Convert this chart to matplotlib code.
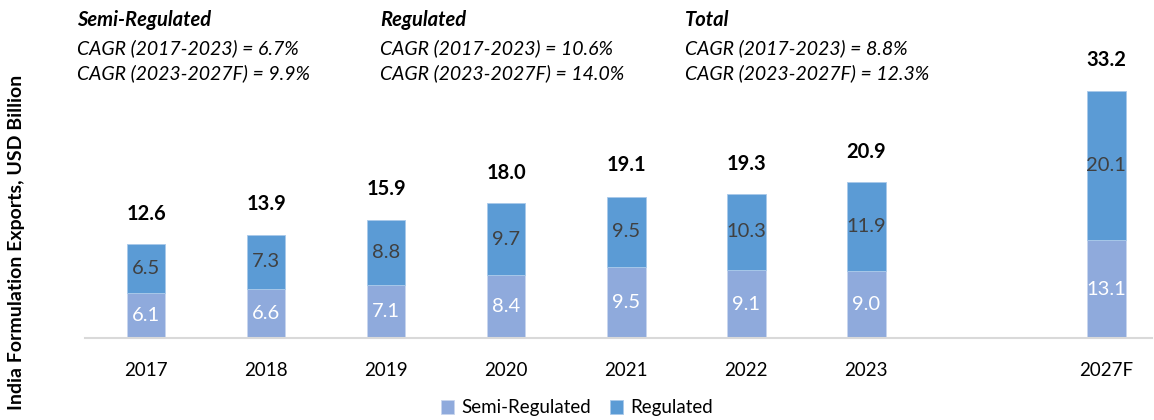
import matplotlib.pyplot as plt
import numpy as np

plt.rcParams["font.family"] = ["Lato", "DejaVu Sans"]

years = ["2017", "2018", "2019", "2020", "2021", "2022", "2023", "2027F"]
semi_regulated = [6.1, 6.6, 7.1, 8.4, 9.5, 9.1, 9.0, 13.1]
regulated = [6.5, 7.3, 8.8, 9.7, 9.5, 10.3, 11.9, 20.1]
totals = [12.6, 13.9, 15.9, 18.0, 19.1, 19.3, 20.9, 33.2]

cagr_blocks = [
    ("Semi-Regulated", "CAGR (2017-2023) = 6.7%", "CAGR (2023-2027F) = 9.9%"),
    ("Regulated", "CAGR (2017-2023) = 10.6%", "CAGR (2023-2027F) = 14.0%"),
    ("Total", "CAGR (2017-2023) = 8.8%", "CAGR (2023-2027F) = 12.3%"),
]

semi_color = "#8FAADC"
reg_color = "#5B9BD5"

fig = plt.figure(figsize=(11.54, 4.2), dpi=100)
ax = fig.add_axes([85 / 1154, 82 / 420, 1067 / 1154, 338 / 420])

# gap before the forecast year
x = np.array([0, 1, 2, 3, 4, 5, 6, 8])
width = 0.32

ax.bar(x, semi_regulated, width, color=semi_color, edgecolor="#C9D6EE", linewidth=0.6,
       label="Semi-Regulated")
ax.bar(x, regulated, width, bottom=semi_regulated, color=reg_color, edgecolor="#A9C9EA",
       linewidth=0.6, label="Regulated")

for xi, s, r, t in zip(x, semi_regulated, regulated, totals):
    ax.text(xi, s / 2, f"{s:.1f}", ha="center", va="center", color="white", fontsize=14.5)
    ax.text(xi, s + r / 2, f"{r:.1f}", ha="center", va="center", color="#404040", fontsize=14.5)
    ax.text(xi, t + 4.1, f"{t:.1f}", ha="center", va="center", color="black", fontsize=14.5,
            fontweight="bold")

ax.set_xlim(-0.51, 8.38)
ax.set_ylim(0, 45.4)
ax.set_xticks(x)
ax.set_xticklabels(years, fontsize=13.5)
ax.tick_params(axis="x", length=0, pad=17)
ax.set_yticks([])
for side in ["top", "right", "left"]:
    ax.spines[side].set_visible(False)
ax.spines["bottom"].set_color("#D9D9D9")
ax.spines["bottom"].set_linewidth(1.5)

# CAGR notes at the top
for xpos, (head, l1, l2) in zip([77, 380, 685], cagr_blocks):
    fig.text(xpos / 1154, 1 - 20 / 420, head, fontsize=14.5, fontweight="bold", style="italic",
             va="center")
    fig.text(xpos / 1154, 1 - 48 / 420, l1, fontsize=14, style="italic", va="center")
    fig.text(xpos / 1154, 1 - 73 / 420, l2, fontsize=14, style="italic", va="center")

fig.text(17 / 1154, 1 - 242 / 420, "India Formulation Exports, USD Billion", rotation=90,
         fontsize=14, fontweight="bold", ha="center", va="center")

fig.legend(loc="center", bbox_to_anchor=(577 / 1154, 1 - 408 / 420), ncol=2, frameon=False,
           fontsize=13.5, handlelength=0.7, handleheight=0.7, columnspacing=1.0, handletextpad=0.4)

fig.savefig("out.png", dpi=100)
